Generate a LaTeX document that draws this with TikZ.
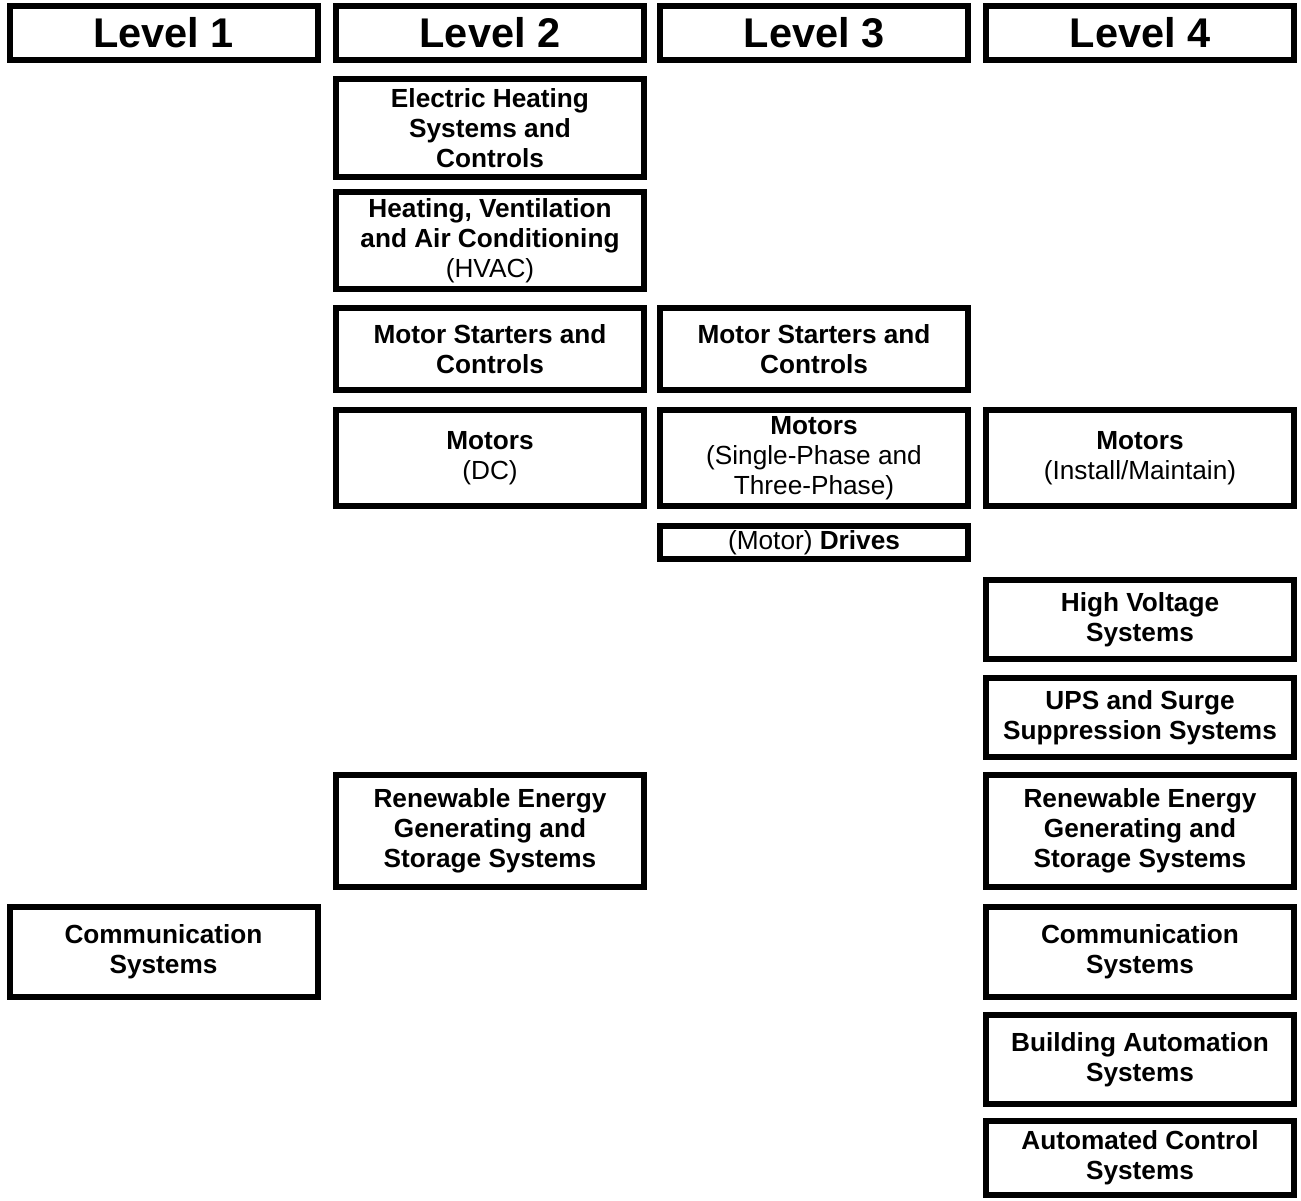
\documentclass[tikz,border=0pt]{standalone}
\usepackage{fontspec}
\setmainfont{Liberation Sans}
\usepackage{tikz}
\usetikzlibrary{positioning}
\tikzset{x=1pt, y=-1pt,
         box/.style={ % Sets the properties for each topic box
           draw,
           line width=6pt,
           minimum width=308pt,
           inner sep=0pt,
           align=center,
           font=\fontsize{26.2}{30}\selectfont},
         levelbox/.style={ % Column headers
           box,
           minimum height=54pt,
           font=\fontsize{41.5}{46}\selectfont\bfseries}}

\begin{document}
\begin{tikzpicture}
      \useasboundingbox (0,0) rectangle (1301,1200);

      % column headers
      \node[levelbox] (lvl1) at (163.5,33) {Level 1};
      \node[levelbox] (lvl2) at (490,33)   {Level 2};
      \node[levelbox] (lvl3) at (814,33)   {Level 3};
      \node[levelbox] (lvl4) at (1140,33)  {Level 4};

      % Level 1
      \node[box, minimum height=90pt] (comm1) at (163.5,952) {\textbf{Communication}\\\textbf{Systems}};

      % Level 2
      \node[box, minimum height=98pt] (eheat) at (490,128) {\textbf{Electric Heating}\\\textbf{Systems and}\\\textbf{Controls}};
      \node[box, minimum height=97pt] (hvac) at (490,240.5) {\textbf{Heating, Ventilation}\\\textbf{and Air Conditioning}\\(HVAC)};
      \node[box, minimum height=82pt] (mstart2) at (490,349) {\textbf{Motor Starters and}\\\textbf{Controls}};
      \node[box, minimum height=96pt] (motor2) at (490,458) {\textbf{Motors}\\(DC)};
      \node[box, minimum height=112pt] (renew2) at (490,831) {\textbf{Renewable Energy}\\\textbf{Generating and}\\\textbf{Storage Systems}};

      % Level 3
      \node[box, minimum height=82pt] (mstart3) at (814,349) {\textbf{Motor Starters and}\\\textbf{Controls}};
      \node[box, minimum height=96pt] (motor3) at (814,458) {\textbf{Motors}\\(Single-Phase and\\Three-Phase)};
      \node[box, minimum height=33pt] (drives) at (814,542.5) {(Motor) \textbf{Drives}};

      % Level 4
      \node[box, minimum height=96pt] (motor4) at (1140,458) {\textbf{Motors}\\(Install/Maintain)};
      \node[box, minimum height=79pt] (hivolt) at (1140,619.5) {\textbf{High Voltage}\\\textbf{Systems}};
      \node[box, minimum height=79pt] (ups) at (1140,717.5) {\textbf{UPS and Surge}\\\textbf{Suppression Systems}};
      \node[box, minimum height=112pt] (renew4) at (1140,831) {\textbf{Renewable Energy}\\\textbf{Generating and}\\\textbf{Storage Systems}};
      \node[box, minimum height=90pt] (comm4) at (1140,952) {\textbf{Communication}\\\textbf{Systems}};
      \node[box, minimum height=89pt] (bauto) at (1140,1059.5) {\textbf{Building Automation}\\\textbf{Systems}};
      \node[box, minimum height=74pt] (actrl) at (1140,1158) {\textbf{Automated Control}\\\textbf{Systems}};

    \end{tikzpicture}
\end{document}
